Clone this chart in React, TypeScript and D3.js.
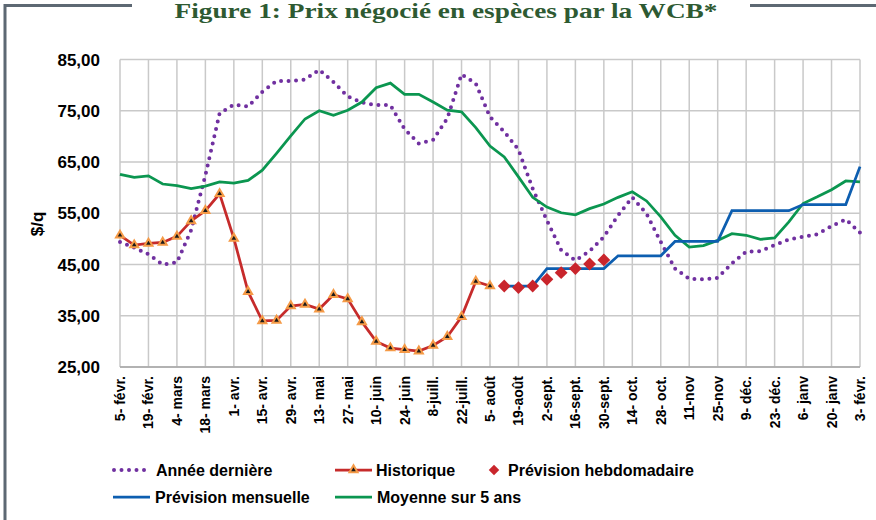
import { useEffect, useRef } from 'react';
import * as d3 from 'd3';

// week labels, one every two weeks (index 0, 2, 4 ... 52)
const weekLabels = [
  '5- févr.', '19- févr.', '4- mars', '18- mars', '1- avr.', '15- avr.', '29- avr.',
  '13- mai', '27- mai', '10- juin', '24- juin', '8-juill.', '22-juill.', '5- août',
  '19-août', '2-sept.', '16-sept.', '30-sept.', '14- oct.', '28- oct.', '11-nov',
  '25-nov', '9- déc.', '23- déc.', '6- janv', '20- janv', '3- févr.'
];

const yTicks = [25, 35, 45, 55, 65, 75, 85];

// Année dernière, weeks 0..52
const anneeDerniere = [
  49.4, 48.3, 47.0, 45.0, 45.4, 51.7, 62.4, 74.5, 76.2, 75.8,
  78.7, 80.8, 80.8, 81.1, 83.0, 80.6, 77.8, 76.6, 76.1, 76.1,
  71.4, 68.6, 69.3, 73.5, 82.1, 80.3, 73.8, 70.9, 67.4, 59.8,
  53.6, 47.8, 45.8, 47.6, 50.4, 54.6, 58.1, 54.9, 49.4, 44.2,
  42.2, 42.1, 42.4, 45.2, 47.5, 47.6, 48.8, 49.9, 50.4, 50.9,
  52.5, 53.8, 51.2
];

// Historique, weeks 0..26
const historique = [
  50.7, 48.8, 49.1, 49.3, 50.5, 53.5, 55.5, 58.8, 50.1, 39.7,
  34.0, 34.1, 36.9, 37.2, 36.3, 39.1, 38.3, 33.8, 30.0, 28.7,
  28.4, 28.1, 29.2, 30.9, 34.8, 41.7, 40.8
];

// Prévision hebdomadaire, weeks 27..34
const hebdoStart = 27;
const previsionHebdo = [40.8, 40.5, 40.8, 42.1, 43.4, 44.2, 45.1, 45.9];

// Prévision mensuelle, weeks 27..52
const mensuelleStart = 27;
const previsionMensuelle = [
  40.8, 40.8, 40.8, 44.2, 44.2, 44.2, 44.2, 44.2, 46.7, 46.7,
  46.7, 46.7, 49.5, 49.5, 49.5, 49.5, 55.5, 55.5, 55.5, 55.5,
  55.5, 56.7, 56.7, 56.7, 56.7, 64.1
];

// Moyenne sur 5 ans, weeks 0..52
const moyenne5ans = [
  62.6, 62.0, 62.3, 60.7, 60.4, 59.8, 60.3, 61.1, 60.9, 61.4,
  63.4, 66.7, 70.1, 73.4, 75.0, 74.1, 75.1, 76.7, 79.5, 80.4,
  78.2, 78.2, 76.7, 75.1, 74.8, 71.7, 68.1, 66.0, 62.1, 58.1,
  56.2, 55.1, 54.7, 55.9, 56.8, 58.1, 59.2, 57.4, 54.3, 50.7,
  48.4, 48.7, 49.7, 51.0, 50.7, 49.9, 50.2, 53.3, 56.9, 58.2,
  59.6, 61.3, 61.1
];

const COLORS = {
  purple: '#7030a0',
  red: '#c62b2b',
  orange: '#f59a46',
  diamond: '#c9252c',
  blue: '#0d5eb0',
  green: '#0b9650',
  grid: '#c9c9c9',
  frame: '#5d6873',
  title: '#2e5a32'
};

const SANS = '"Liberation Sans", Arial, sans-serif';

type Pt = { i: number; v: number };

const App = () => {
  const svgRef = useRef<SVGSVGElement>(null);
  const width = 876;
  const height = 520;

  useEffect(() => {
    if (!svgRef.current) return;
    const svg = d3.select(svgRef.current);
    svg.selectAll('*').remove();

    const margin = { top: 59.5, right: 16, bottom: 153, left: 120 };
    const x = d3.scaleLinear().domain([0, 52]).range([margin.left, width - margin.right]);
    const y = d3.scaleLinear().domain([25, 85]).range([height - margin.bottom, margin.top]);

    svg.append('rect').attr('width', width).attr('height', height).attr('fill', '#fff');

    // frame around the figure
    svg.append('path')
      .attr('d', `M5,520 V5.5 H132 M750,5.5 H876`)
      .attr('fill', 'none')
      .attr('stroke', COLORS.frame)
      .attr('stroke-width', 3);

    svg.append('text')
      .attr('x', 446)
      .attr('y', 18)
      .attr('text-anchor', 'middle')
      .attr('textLength', 543)
      .attr('lengthAdjust', 'spacingAndGlyphs')
      .style('font-family', '"Liberation Serif", "DejaVu Serif", serif')
      .style('font-weight', 'bold')
      .style('font-size', '21px')
      .style('fill', COLORS.title)
      .text('Figure 1: Prix négocié en espèces par la WCB*');

    // gridlines
    const g = svg.append('g');
    g.selectAll('.hgrid')
      .data(yTicks)
      .join('line')
      .attr('x1', x(0))
      .attr('x2', x(52))
      .attr('y1', d => y(d))
      .attr('y2', d => y(d))
      .attr('stroke', COLORS.grid)
      .attr('stroke-width', 1.5);

    g.selectAll('.vgrid')
      .data(weekLabels.map((_, k) => k * 2))
      .join('line')
      .attr('x1', d => x(d))
      .attr('x2', d => x(d))
      .attr('y1', y(85))
      .attr('y2', y(25))
      .attr('stroke', COLORS.grid)
      .attr('stroke-width', 1.5);

    g.append('line')
      .attr('x1', x(0)).attr('x2', x(52))
      .attr('y1', y(25)).attr('y2', y(25))
      .attr('stroke', '#a6a6a6')
      .attr('stroke-width', 1.5);

    // y axis labels
    svg.selectAll('.ylab')
      .data(yTicks)
      .join('text')
      .attr('x', 100)
      .attr('y', d => y(d))
      .attr('dy', '0.36em')
      .attr('text-anchor', 'end')
      .style('font-family', SANS)
      .style('font-weight', 'bold')
      .style('font-size', '17px')
      .style('fill', '#000')
      .text(d => d3.format('.2f')(d).replace('.', ','));

    svg.append('text')
      .attr('transform', 'translate(43,224) rotate(-90)')
      .attr('text-anchor', 'middle')
      .style('font-family', SANS)
      .style('font-weight', 'bold')
      .style('font-size', '17px')
      .text('$/q');

    // x axis labels
    svg.selectAll('.xlab')
      .data(weekLabels)
      .join('text')
      .attr('transform', (_, k) => `translate(${x(k * 2) + 5},${y(25) + 9}) rotate(-90)`)
      .attr('text-anchor', 'end')
      .style('font-family', SANS)
      .style('font-weight', 'bold')
      .style('font-size', '14px')
      .text(d => d);

    const line = d3.line<Pt>().x(d => x(d.i)).y(d => y(d.v));
    const toPts = (arr: number[], start = 0): Pt[] => arr.map((v, k) => ({ i: start + k, v }));

    // Année dernière (dotted)
    svg.append('path')
      .datum(toPts(anneeDerniere))
      .attr('d', line)
      .attr('fill', 'none')
      .attr('stroke', COLORS.purple)
      .attr('stroke-width', 4)
      .attr('stroke-linecap', 'round')
      .attr('stroke-dasharray', '0 7.5');

    // Moyenne sur 5 ans
    svg.append('path')
      .datum(toPts(moyenne5ans))
      .attr('d', line)
      .attr('fill', 'none')
      .attr('stroke', COLORS.green)
      .attr('stroke-width', 2.75);

    // Prévision mensuelle
    svg.append('path')
      .datum(toPts(previsionMensuelle, mensuelleStart))
      .attr('d', line)
      .attr('fill', 'none')
      .attr('stroke', COLORS.blue)
      .attr('stroke-width', 2.75);

    // Historique
    const histPts = toPts(historique);
    svg.append('path')
      .datum(histPts)
      .attr('d', line)
      .attr('fill', 'none')
      .attr('stroke', COLORS.red)
      .attr('stroke-width', 2.75);

    const tri = d3.symbol().type(d3.symbolTriangle).size(28);
    svg.selectAll('.tri')
      .data(histPts)
      .join('path')
      .attr('transform', d => `translate(${x(d.i)},${y(d.v)})`)
      .attr('d', tri)
      .attr('fill', '#1a1a1a')
      .attr('stroke', COLORS.orange)
      .attr('stroke-width', 2);

    // Prévision hebdomadaire
    const diamond = d3.symbol().type(d3.symbolDiamond2).size(105);
    svg.selectAll('.dia')
      .data(toPts(previsionHebdo, hebdoStart))
      .join('path')
      .attr('transform', d => `translate(${x(d.i)},${y(d.v)})`)
      .attr('d', diamond)
      .attr('fill', COLORS.diamond);

    // legend
    const legend = svg.append('g').style('font-family', SANS).style('font-weight', 'bold').style('font-size', '16px');
    const addText = (tx: number, ty: number, label: string) =>
      legend.append('text').attr('x', tx).attr('y', ty).attr('dy', '0.36em').text(label);

    legend.append('line')
      .attr('x1', 114).attr('x2', 150).attr('y1', 470).attr('y2', 470)
      .attr('stroke', COLORS.purple).attr('stroke-width', 4)
      .attr('stroke-linecap', 'round').attr('stroke-dasharray', '0 7.5');
    addText(156, 470, 'Année dernière');

    legend.append('line')
      .attr('x1', 335).attr('x2', 372).attr('y1', 470).attr('y2', 470)
      .attr('stroke', COLORS.red).attr('stroke-width', 2.75);
    legend.append('path')
      .attr('transform', 'translate(353.5,470)')
      .attr('d', tri)
      .attr('fill', '#1a1a1a')
      .attr('stroke', COLORS.orange)
      .attr('stroke-width', 2);
    addText(376, 470, 'Historique');

    legend.append('path')
      .attr('transform', 'translate(494,470)')
      .attr('d', d3.symbol().type(d3.symbolDiamond2).size(70))
      .attr('fill', COLORS.diamond);
    addText(508, 470, 'Prévision hebdomadaire');

    legend.append('line')
      .attr('x1', 113).attr('x2', 150).attr('y1', 497).attr('y2', 497)
      .attr('stroke', COLORS.blue).attr('stroke-width', 2.75);
    addText(155, 497, 'Prévision mensuelle');

    legend.append('line')
      .attr('x1', 335).attr('x2', 372).attr('y1', 497).attr('y2', 497)
      .attr('stroke', COLORS.green).attr('stroke-width', 2.75);
    addText(377, 497, 'Moyenne sur 5 ans');
  }, []);

  return (
    <div style={{ position: 'absolute', left: 0, top: 0 }}>
      <svg ref={svgRef} width={width} height={height} style={{ display: 'block' }} />
    </div>
  );
};

export default App;
